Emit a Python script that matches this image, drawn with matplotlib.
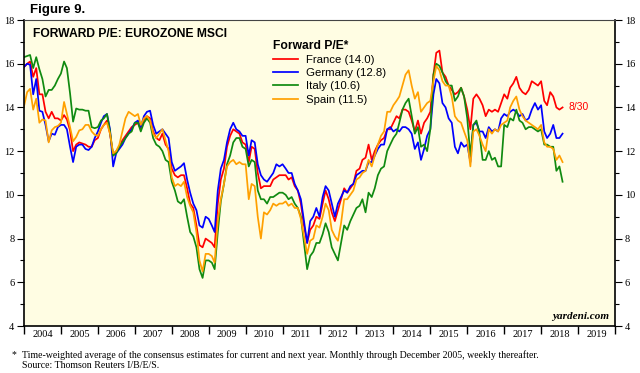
import numpy as np
import pandas as pd
import matplotlib
matplotlib.use("Agg")
import matplotlib.pyplot as plt
from matplotlib.ticker import MultipleLocator, FixedLocator, NullFormatter

# monthly estimates, Jan 2004 .. Aug 2018
france = [
    15.85, 16.0, 16.1, 15.4, 15.8, 14.6, 14.6, 13.8, 13.5, 13.8, 13.5, 13.5,   # 2004
    13.4, 13.65, 13.45, 12.95, 12.0, 12.3, 12.4, 12.35, 12.3, 12.2, 12.2, 12.5,  # 2005
    12.6, 13.0, 13.2, 13.4, 12.8, 11.8, 12.0, 12.2, 12.5, 12.7, 12.9, 13.1,   # 2006
    13.2, 13.3, 13.0, 13.4, 13.6, 13.5, 12.9, 12.6, 12.5, 12.8, 12.3, 12.1,   # 2007
    11.2, 10.9, 10.8, 10.9, 10.9, 10.3, 9.6, 9.4, 8.6, 7.7, 7.6, 8.0,         # 2008
    7.9, 7.8, 7.6, 9.6, 10.7, 11.2, 12.2, 12.7, 13.0, 12.9, 12.8, 12.4,       # 2009
    12.3, 11.5, 12.2, 12.1, 11.0, 10.3, 10.4, 10.4, 10.4, 10.7, 10.8, 10.9,   # 2010
    10.9, 10.9, 10.7, 10.8, 10.4, 10.2, 9.6, 8.6, 7.8, 8.4, 8.6, 9.0,         # 2011
    8.9, 9.6, 10.2, 9.8, 9.2, 8.8, 9.3, 9.8, 10.3, 10.1, 10.3, 10.5,          # 2012
    11.1, 11.2, 11.6, 11.7, 12.3, 11.6, 12.0, 12.3, 12.5, 12.6, 13.0, 13.0,   # 2013
    13.3, 13.6, 13.5, 13.9, 13.9, 13.8, 13.4, 12.9, 13.4, 12.8, 13.3, 13.5,   # 2014
    13.8, 15.5, 16.5, 16.6, 15.6, 15.4, 15.0, 14.8, 14.6, 14.7, 14.9, 14.5,   # 2015
    13.9, 13.0, 14.4, 14.6, 14.4, 14.1, 13.6, 13.9, 13.8, 13.9, 13.8, 14.2,   # 2016
    14.6, 14.4, 14.9, 15.1, 15.4, 14.9, 14.7, 14.6, 14.8, 15.2, 15.1, 15.0,   # 2017
    15.2, 14.3, 14.1, 14.7, 14.5, 14.0, 13.9, 14.0,                           # 2018
]
germany = [
    15.85, 16.0, 15.95, 14.6, 15.3, 13.85, 13.8, 13.2, 12.45, 12.8, 12.75, 13.1,
    13.2, 13.2, 13.0, 12.2, 11.5, 12.2, 12.3, 12.3, 12.1, 12.05, 12.2, 12.6,
    12.9, 13.3, 13.6, 13.7, 13.0, 11.3, 11.9, 12.1, 12.3, 12.6, 12.8, 13.0,
    13.3, 13.4, 13.1, 13.6, 13.8, 13.85, 13.2, 12.8, 12.9, 13.0, 12.8, 12.6,
    11.5, 11.1, 11.2, 11.3, 11.45, 10.7, 10.1, 9.6, 9.3, 8.6, 8.5, 9.0,
    8.9, 8.6, 8.3, 10.2, 11.2, 11.6, 12.4, 13.0, 13.3, 13.0, 12.9, 12.7,
    12.7, 11.8, 12.5, 12.4, 11.4, 10.9, 10.7, 10.6, 10.8, 11.0, 11.4, 11.3,
    11.4, 11.2, 11.0, 11.0, 10.5, 10.2, 9.8, 8.8, 7.8, 8.8, 9.0, 9.4,
    9.0, 9.9, 10.4, 10.2, 9.6, 9.0, 9.6, 9.9, 10.2, 10.1, 10.4, 10.5,
    10.9, 11.0, 11.1, 11.1, 11.5, 11.5, 11.8, 12.1, 12.3, 12.3, 13.0, 13.1,
    12.9, 13.0, 12.9, 13.1, 13.1, 13.0, 12.8, 12.1, 12.4, 11.6, 12.1, 12.7,
    13.0, 14.6, 15.3, 15.1, 14.2, 14.0, 13.5, 13.3, 12.2, 11.9, 12.4, 12.2,
    12.3, 11.5, 13.2, 13.3, 12.9, 12.9, 12.6, 13.1, 12.9, 13.0, 12.9, 13.5,
    13.7, 13.6, 13.8, 13.9, 13.8, 13.6, 13.7, 13.4, 13.5, 13.9, 14.2, 13.9,
    14.1, 12.9, 12.6, 12.8, 13.2, 12.6, 12.6, 12.8,
]
italy = [
    16.3, 16.35, 16.4, 15.8, 16.3, 15.75, 15.3, 14.5, 14.8, 14.8, 15.0, 15.3,
    15.55, 16.1, 15.8, 14.65, 13.35, 13.95, 13.9, 13.9, 13.85, 13.85, 13.1, 13.05,
    13.1, 13.4, 13.5, 13.7, 12.9, 11.8, 11.9, 12.2, 12.4, 12.6, 12.8, 12.9,
    13.3, 13.3, 12.9, 13.3, 13.5, 13.3, 12.6, 12.3, 12.2, 12.0, 11.6, 11.5,
    10.6, 10.2, 9.7, 9.6, 9.8, 9.0, 8.3, 8.1, 7.6, 6.6, 6.2, 7.0,
    7.0, 6.9, 6.6, 8.3, 9.7, 10.5, 11.4, 11.8, 12.4, 12.6, 12.6, 12.2,
    12.1, 11.3, 11.6, 11.5, 10.2, 9.8, 9.8, 9.6, 9.9, 9.9, 10.0, 10.1,
    10.1, 10.0, 9.8, 9.9, 9.6, 9.4, 9.0, 7.8, 6.6, 7.2, 7.4, 7.8,
    7.8, 8.2, 8.7, 8.3, 7.6, 7.3, 7.0, 7.8, 8.6, 8.4, 8.8, 9.1,
    9.4, 9.5, 9.8, 9.2, 10.1, 9.9, 10.3, 10.9, 11.2, 11.3, 12.0, 12.3,
    12.6, 12.8, 13.3, 13.9, 14.2, 14.4, 13.6, 12.8, 13.1, 12.2, 12.3, 12.0,
    13.0, 15.5, 16.0, 15.9, 15.6, 15.2, 15.0, 15.0, 14.3, 14.5, 14.9, 14.5,
    13.5, 11.8, 13.2, 13.4, 12.8, 11.6, 11.6, 12.0, 11.6, 11.7, 11.3, 11.3,
    13.2, 13.1, 13.5, 13.4, 13.9, 13.4, 13.3, 13.0, 13.1, 13.1, 13.0, 12.9,
    13.0, 12.3, 12.3, 12.2, 12.2, 11.1, 11.3, 10.6,
]
spain = [
    14.05, 14.7, 14.85, 13.9, 14.4, 13.3, 13.45, 13.4, 12.4, 12.95, 13.1, 13.15,
    13.3, 14.25, 13.7, 13.1, 12.45, 12.65, 12.95, 13.0, 13.2, 13.2, 12.9, 12.75,
    12.7, 13.0, 13.2, 13.3, 12.8, 11.9, 12.0, 12.3, 12.9, 13.5, 13.8, 13.7,
    13.6, 13.7, 13.2, 13.5, 13.6, 13.4, 12.8, 12.6, 12.8, 13.0, 12.5, 12.0,
    10.8, 10.4, 10.5, 10.4, 10.6, 9.9, 9.5, 9.2, 8.3, 7.0, 6.5, 7.3,
    7.3, 7.2, 6.9, 8.8, 9.8, 10.5, 11.3, 11.5, 11.6, 11.4, 11.5, 11.4,
    11.4, 9.8, 10.5, 10.4, 9.0, 8.0, 9.2, 9.1, 9.3, 9.6, 9.5, 9.6,
    9.6, 9.7, 9.5, 9.6, 9.4, 9.4, 8.9, 8.1, 7.3, 7.9, 8.0, 8.6,
    8.5, 9.0, 9.6, 9.3, 8.4, 8.1, 7.9, 8.7, 9.8, 9.8, 10.0, 10.2,
    10.7, 10.8, 11.0, 11.1, 11.6, 11.3, 11.8, 12.3, 12.7, 12.9, 13.8, 13.8,
    14.1, 14.3, 14.5, 15.0, 15.5, 15.7, 15.0, 14.4, 14.7, 13.8, 14.0, 14.2,
    14.3, 15.2, 15.9, 15.7, 15.2, 15.0, 15.0, 14.5, 13.6, 13.4, 13.3, 12.9,
    12.5, 11.3, 12.9, 13.0, 12.7, 12.3, 12.0, 13.0, 12.8, 13.0, 12.9, 13.2,
    13.3, 13.4, 14.0, 14.3, 14.5, 13.9, 13.6, 13.4, 13.3, 13.2, 13.1, 13.0,
    13.2, 12.4, 12.2, 12.2, 12.1, 11.6, 11.8, 11.5,
]

names = ["France (14.0)", "Germany (12.8)", "Italy (10.6)", "Spain (11.5)"]
colors = ["#ff0000", "#0000ff", "#108a10", "#ffa000"]
years = list(range(2004, 2020))

dates = pd.date_range("2004-01-01", periods=len(france), freq="MS")
t = dates.year + (dates.dayofyear - 1) / 365.25

fig = plt.figure(figsize=(6.4, 3.73), dpi=100)
ax = fig.add_axes([24/640, 1 - 326/373, 591/640, 306/373])
ax.set_facecolor("#fffde3")

for s, c, n in zip([france, germany, italy, spain], colors, names):
    ax.plot(t, s, color=c, lw=1.25, label=n)

ax.set_xlim(2004, 2020)
ax.set_ylim(4, 18)

serif = "Liberation Serif"
sans = "Liberation Sans"

# y axes both sides
ax.yaxis.set_major_locator(MultipleLocator(2))
ax.yaxis.set_minor_locator(MultipleLocator(1))
ax.tick_params(axis="y", which="both", direction="out", left=True, right=True,
               labelleft=True, labelright=True, labelsize=7.5, pad=2)
ax.tick_params(axis="y", which="major", length=5, width=0.8)
ax.tick_params(axis="y", which="minor", length=3, width=0.8)
for lab in ax.get_yticklabels():
    lab.set_fontfamily(serif)

# x: ticks at year boundaries, labels in middle
ax.xaxis.set_major_locator(FixedLocator(years + [2020]))
ax.xaxis.set_major_formatter(NullFormatter())
ax.xaxis.set_minor_locator(FixedLocator([y + 0.5 for y in years]))
ax.set_xticklabels([str(y) for y in years], minor=True, fontfamily=serif, fontsize=7.5)
ax.tick_params(axis="x", which="major", direction="out", length=6, width=1)
ax.tick_params(axis="x", which="minor", length=0, pad=3)

for sp in ["left", "bottom", "right"]:
    ax.spines[sp].set_linewidth(1.2)
ax.spines["top"].set_linewidth(0.8)
ax.spines["top"].set_color("#444444")

ax.text(0.015, 0.975, "FORWARD P/E: EUROZONE MSCI", transform=ax.transAxes,
        fontfamily=sans, fontweight="bold", fontsize=8.7, va="top", ha="left")

leg = ax.legend(loc="upper left", bbox_to_anchor=(0.422, 0.935), frameon=False,
                title="Forward P/E*", alignment="left",
                prop={"family": sans, "size": 8.2},
                title_fontproperties={"family": sans, "weight": "bold", "size": 8.7},
                handlelength=2.2, handletextpad=0.7, labelspacing=0.28,
                borderaxespad=0, borderpad=0)

ax.text(2018.73, 14.0, "8/30", color="#ff0000", fontfamily=sans, fontsize=7.5,
        va="center", ha="left")
ax.text(0.99, 0.015, "yardeni.com", transform=ax.transAxes, fontfamily=serif,
        fontweight="bold", fontstyle="italic", fontsize=8, ha="right", va="bottom")

fig.text(30/640, 1 - 10/373, "Figure 9.", fontfamily=sans, fontweight="bold",
         fontsize=9.5, va="center", ha="left")
fig.text(12/640, 1 - 355/373, "*", fontfamily=serif, fontsize=7, va="center")
fig.text(22/640, 1 - 355/373,
         "Time-weighted average of the consensus estimates for current and next year. "
         "Monthly through December 2005, weekly thereafter.",
         fontfamily=serif, fontsize=7.1, va="center")
fig.text(22/640, 1 - 366/373, "Source: Thomson Reuters I/B/E/S.",
         fontfamily=serif, fontsize=7.1, va="center")

fig.savefig("out.png", dpi=100)
